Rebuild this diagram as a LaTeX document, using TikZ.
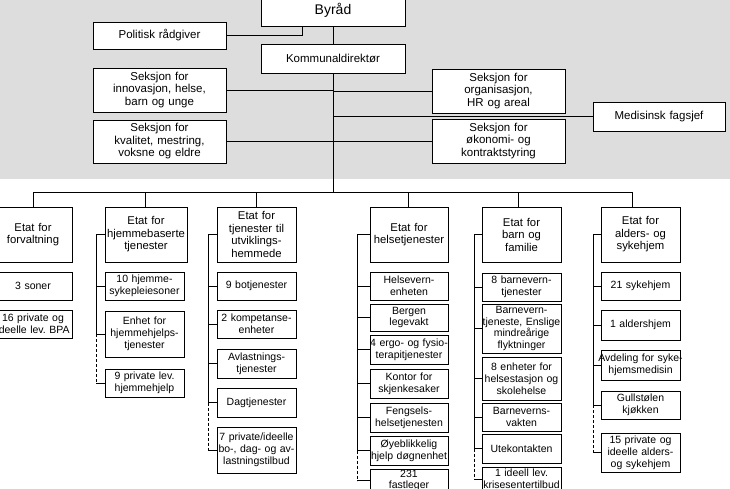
\documentclass[tikz,border=0pt]{standalone}
\usepackage{fontspec}
\setmainfont{Liberation Sans}
\usepackage{tikz}
\usetikzlibrary{positioning}
\definecolor{panelgray}{RGB}{221,221,221}
\tikzset{
  topbox/.style={draw=black,line width=0.9pt,fill=white,align=center,
    inner sep=0pt,text width=133pt,font=\fontsize{11.5}{12.5}\selectfont},
  etatbox/.style={draw=black,line width=0.9pt,fill=white,align=center,
    inner sep=0pt,text width=79pt,minimum height=55pt,
    font=\fontsize{11.3}{12.5}\selectfont},
  unitbox/.style={draw=black,line width=0.9pt,fill=white,align=center,
    inner sep=0pt,text width=79pt,font=\fontsize{10.5}{11.8}\selectfont},
  link/.style={line width=0.9pt,draw=black},
  privlink/.style={link,dash pattern=on 3pt off 2pt}
}

\begin{document}
\begin{tikzpicture}[x=1pt,y=-1pt]
  \useasboundingbox (0,0) rectangle (730,488);
  \clip (0,0) rectangle (730,488);
  \fill[panelgray] (0,0) rectangle (730,179);

  % byraad og kommunaldirektoer
  \node[topbox,text width=144pt,minimum height=32pt,
    font=\fontsize{14}{15}\selectfont] (byraad) at (333,10) {Byråd};
  \node[topbox,minimum height=27pt] (polit) at (159.5,35.5) {Politisk rådgiver};
  \node[topbox,text width=144pt,minimum height=29pt] (kdir) at (333,58.5) {Kommunaldirektør};
  \node[topbox,minimum height=44pt] (innov) at (159.5,90) {Seksjon for\\innovasjon, helse,\\barn og unge};
  \node[topbox,minimum height=43pt] (kval) at (159.5,141.5) {Seksjon for\\kvalitet, mestring,\\voksne og eldre};
  \node[topbox,minimum height=44pt] (org) at (498.5,91) {Seksjon for\\organisasjon,\\HR og areal};
  \node[topbox,minimum height=44pt] (okon) at (498.5,141) {Seksjon for\\økonomi- og\\kontraktstyring};
  \node[topbox,text width=132pt,minimum height=29pt] (med) at (659,116.5) {Medisinsk fagsjef};

  \coordinate (byjoin) at (302,26);
  \coordinate (bus) at (333,192);
  \draw[link] (polit.east) -| (byjoin);
  \draw[link] (byraad.south) -- (kdir.north);
  \draw[link] (kdir.south) -- (bus);
  \draw[link] (innov.east) -- (innov.east -| bus);
  \draw[link] (kval.east) -- (kval.east -| bus);
  \draw[link] (org.west) -- (org.west -| bus);
  \draw[link] (okon.west) -- (okon.west -| bus);
  \draw[link] (med.west) -- (med.west -| bus);

  % etater
  \node[etatbox,text width=78pt] (etat1) at (33,234.5) {Etat for\\forvaltning};
  \node[etatbox,text width=82pt] (etat2) at (146,234.5) {Etat for\\hjemmebaserte\\tjenester};
  \node[etatbox] (etat3) at (256.5,234.5) {Etat for\\tjenester til\\utviklings-\\hemmede};
  \node[etatbox,text width=78pt] (etat4) at (409,234.5) {Etat for\\helsetjenester};
  \node[etatbox] (etat5) at (521.5,234.5) {Etat for\\barn og\\familie};
  \node[etatbox] (etat6) at (640.5,234.5) {Etat for\\alders- og\\sykehjem};

  \coordinate (d1) at (33,192);
  \coordinate (d2) at (145,192);
  \coordinate (d3) at (256,192);
  \coordinate (d4) at (408,192);
  \coordinate (d5) at (518,192);
  \coordinate (d6) at (632,192);
  \draw[link] (d1) -- (d6);
  \foreach \i in {1,...,6}
    \draw[link] (d\i) -- (d\i |- etat\i.north);

  % forvaltning
  \node[unitbox,text width=78pt,minimum height=28pt] (fv1) at (33,286) {3 soner};
  \node[unitbox,text width=78pt,minimum height=28pt] (fv2) at (33,324) {16 private og\\ideelle lev.\ BPA};

  % hjemmebaserte tjenester
  \node[unitbox,minimum height=28pt] (hj1) at (144.5,286) {10 hjemme-\\sykepleiesoner};
  \node[unitbox,minimum height=46pt] (hj2) at (144.5,334) {Enhet for\\hjemmehjelps-\\tjenester};
  \node[unitbox,minimum height=28pt] (hj3) at (144.5,383) {9 private lev.\\hjemmehjelp};
  \coordinate (sp2) at (96,234.5);
  \draw[link] (etat2.west) -- (sp2) -- (sp2 |- hj2.west);
  \draw[privlink] (sp2 |- hj2.west) -- (sp2 |- hj3.west);
  \foreach \n in {hj1,hj2,hj3}
    \draw[link] (\n.west) -- (\n.west -| sp2);

  % utviklingshemmede
  \node[unitbox,minimum height=28pt] (ut1) at (256.5,286) {9 botjenester};
  \node[unitbox,minimum height=28pt] (ut2) at (256.5,324) {2 kompetanse-\\enheter};
  \node[unitbox,minimum height=29pt] (ut3) at (256.5,363.5) {Avlastnings-\\tjenester};
  \node[unitbox,minimum height=29pt] (ut4) at (256.5,402.5) {Dagtjenester};
  \node[unitbox,minimum height=46pt] (ut5) at (256.5,450) {7 private/ideelle\\bo-, dag- og av-\\lastningstilbud};
  \coordinate (sp3) at (208,234.5);
  \draw[link] (etat3.west) -- (sp3) -- (sp3 |- ut4.west);
  \draw[privlink] (sp3 |- ut4.west) -- (sp3 |- ut5.west);
  \foreach \n in {ut1,ut2,ut3,ut4,ut5}
    \draw[link] (\n.west) -- (\n.west -| sp3);

  % helsetjenester
  \node[unitbox,text width=78pt,minimum height=28pt] (he1) at (409,286) {Helsevern-\\enheten};
  \node[unitbox,text width=78pt,minimum height=27pt] (he2) at (409,317.5) {Bergen\\legevakt};
  \node[unitbox,text width=78pt,minimum height=29pt] (he3) at (409,349.5) {\makebox[78pt]{4 ergo- og fysio-}\\terapitjenester};
  \node[unitbox,text width=78pt,minimum height=29pt] (he4) at (409,383.5) {Kontor for\\skjenkesaker};
  \node[unitbox,text width=78pt,minimum height=29pt] (he5) at (409,417.5) {Fengsels-\\helsetjenesten};
  \node[unitbox,text width=78pt,minimum height=29pt] (he6) at (409,450.5) {Øyeblikkelig\\hjelp døgnenhet};
  \node[unitbox,text width=78pt,minimum height=23pt] (he7) at (409,480.5) {231\\fastleger};
  \coordinate (sp4) at (357,234.5);
  \draw[link] (etat4.west) -- (sp4) -- (sp4 |- he6.west);
  \draw[privlink] (sp4 |- he6.west) -- (sp4 |- he7.west);
  \foreach \n in {he1,he2,he3,he4,he5,he6,he7}
    \draw[link] (\n.west) -- (\n.west -| sp4);

  % barn og familie
  \node[unitbox,minimum height=28pt] (bf1) at (521.5,287) {8 barnevern-\\tjenester};
  \node[unitbox,minimum height=49pt] (bf2) at (521.5,328.5) {Barnevern-\\\makebox[79pt]{tjeneste, Enslige}\\mindreårige\\flyktninger};
  \node[unitbox,minimum height=43pt] (bf3) at (521.5,378.5) {8 enheter for\\helsestasjon og\\skolehelse};
  \node[unitbox,minimum height=28pt] (bf4) at (521.5,417) {Barneverns-\\vakten};
  \node[unitbox,minimum height=29pt] (bf5) at (521.5,448.5) {Utekontakten};
  \node[unitbox,minimum height=24pt] (bf6) at (521.5,479) {\makebox[79pt]{1 ideell lev.}\\\makebox[79pt]{krisesentertilbud}};
  \coordinate (sp5) at (474,234.5);
  \draw[link] (etat5.west) -- (sp5) -- (sp5 |- bf5.west);
  \draw[privlink] (sp5 |- bf5.west) -- (sp5 |- bf6.west);
  \foreach \n in {bf1,bf2,bf3,bf4,bf5,bf6}
    \draw[link] (\n.west) -- (\n.west -| sp5);

  % alders- og sykehjem
  \node[unitbox,minimum height=28pt] (as1) at (640.5,286) {21 sykehjem};
  \node[unitbox,minimum height=30pt] (as2) at (640.5,325) {1 aldershjem};
  \node[unitbox,minimum height=30pt] (as3) at (640.5,365) {\makebox[79pt]{Avdeling for syke-}\\hjemsmedisin};
  \node[unitbox,minimum height=28pt] (as4) at (640.5,405) {Gullstølen\\kjøkken};
  \node[unitbox,minimum height=39pt] (as5) at (640.5,452.5) {15 private og\\ideelle alders-\\og sykehjem};
  \coordinate (sp6) at (593,234.5);
  \draw[link] (etat6.west) -- (sp6) -- (sp6 |- as4.west);
  \draw[privlink] (sp6 |- as4.west) -- (sp6 |- as5.west);
  \foreach \n in {as1,as2,as3,as4,as5}
    \draw[link] (\n.west) -- (\n.west -| sp6);
\end{tikzpicture}
\end{document}
